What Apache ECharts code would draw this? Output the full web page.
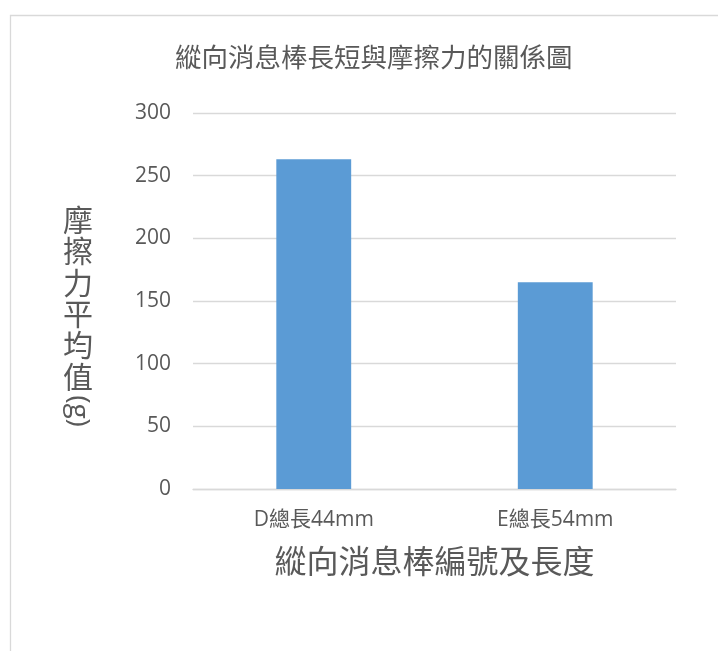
<!DOCTYPE html>
<html>
<head>
<meta charset="utf-8">
<script src="https://cdn.jsdelivr.net/npm/echarts@6/dist/echarts.min.js"></script>
<style>
  html, body { margin: 0; padding: 0; background: #ffffff; }
  #chart { width: 718px; height: 651px; }
</style>
</head>
<body>
<div id="chart"></div>
<script>
// Rod labels and mean friction values (g)
const categories = ['D總長44mm', 'E總長54mm'];
const frictionMeans = [263, 165];
const yTicks = { min: 0, max: 300, interval: 50 };

const titleText = '縱向消息棒長短與摩擦力的關係圖';
const xAxisTitle = '縱向消息棒編號及長度';
const yAxisTitleChars = '摩擦力平均值';
const yAxisUnit = '(g)';

const latinFont = "'Open Sans', 'Noto Sans CJK TC', sans-serif";
const cjkFont = "'Noto Sans CJK TC', 'Noto Sans', sans-serif";
const textGray = '#595959';
const lineGray = '#d9d9d9';

const chart = echarts.init(document.getElementById('chart'), null, { renderer: 'canvas' });

chart.setOption({
  backgroundColor: '#ffffff',
  animation: false,
  title: {
    text: titleText,
    left: 170,
    top: 39,
    textStyle: {
      fontFamily: cjkFont,
      fontSize: 26.5,
      fontWeight: 'normal',
      color: textGray
    }
  },
  grid: {
    left: 193,
    right: 42,
    top: 113,
    bottom: 162,
    containLabel: false
  },
  xAxis: {
    type: 'category',
    data: categories,
    name: xAxisTitle,
    nameLocation: 'middle',
    nameGap: 56,
    nameTextStyle: {
      fontFamily: cjkFont,
      fontSize: 32,
      color: textGray
    },
    axisLine: { show: true, lineStyle: { color: lineGray, width: 1.3 } },
    axisTick: { show: false },
    axisLabel: {
      margin: 21,
      fontFamily: latinFont,
      fontSize: 21,
      color: textGray
    }
  },
  yAxis: {
    type: 'value',
    min: yTicks.min,
    max: yTicks.max,
    interval: yTicks.interval,
    axisLine: { show: false },
    axisTick: { show: false },
    splitLine: { lineStyle: { color: lineGray, width: 1.3 } },
    axisLabel: {
      margin: 22,
      fontFamily: latinFont,
      fontSize: 21,
      color: textGray
    }
  },
  series: [{
    type: 'bar',
    data: frictionMeans,
    barWidth: '31%',
    itemStyle: { color: '#5b9bd5' }
  }],
  graphic: [
    {
      // chart frame, running off the right and bottom edges
      type: 'rect',
      silent: true,
      shape: { x: 10.5, y: 15.5, width: 900, height: 900 },
      style: { fill: 'none', stroke: lineGray, lineWidth: 1.3 },
      z: -1
    },
    {
      // vertical y-axis title, one character per line
      type: 'text',
      x: 78,
      y: 204,
      style: {
        text: yAxisTitleChars.split('').join('\n'),
        font: "30px 'Noto Sans CJK TC', sans-serif",
        lineHeight: 31.3,
        fill: textGray,
        align: 'center',
        verticalAlign: 'top'
      }
    },
    {
      // unit turned sideways beneath the stacked characters
      type: 'text',
      x: 78,
      y: 411,
      rotation: -Math.PI / 2,
      style: {
        text: yAxisUnit,
        font: "28px 'Open Sans', sans-serif",
        fill: textGray,
        align: 'center',
        verticalAlign: 'middle'
      }
    }
  ]
});
</script>
</body>
</html>
